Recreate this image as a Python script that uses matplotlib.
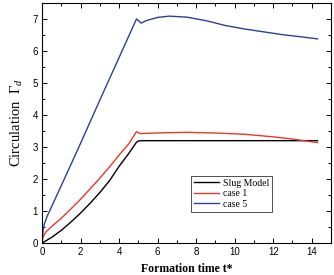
import numpy as np
import matplotlib as mpl
mpl.use('Agg')
import matplotlib.pyplot as plt
from matplotlib.ticker import MultipleLocator

t_slug = [0, 0.5, 1, 1.5, 2, 2.5, 3, 3.5, 4, 4.5, 4.9, 5.0, 5.2, 6, 8, 10, 12, 14.3]
g_slug = [0, 0.18, 0.4, 0.66, 0.94, 1.25, 1.58, 1.95, 2.4, 2.8, 3.15, 3.19, 3.2, 3.2, 3.2, 3.2, 3.2, 3.2]

t_case1 = [0, 0.05, 0.2, 0.5, 1, 1.5, 2, 2.5, 3, 3.5, 4, 4.5, 4.9, 5.1, 5.5, 6.5, 7.5,
           9, 10.5, 12, 13, 14.3]
g_case1 = [0, 0.2, 0.35, 0.52, 0.78, 1.07, 1.37, 1.7, 2.03, 2.38, 2.75, 3.1, 3.48, 3.42,
           3.43, 3.45, 3.46, 3.44, 3.4, 3.32, 3.25, 3.14]

t_case5 = [0, 0.05, 0.12, 0.25, 1, 2, 3, 4, 4.6, 4.9, 4.95, 5.15, 5.4, 6, 6.6, 7.5,
           8.5, 9.5, 10.5, 11.5, 12.5, 13.5, 14.3]
g_case5 = [0, 0.4, 0.6, 0.82, 1.8, 3.12, 4.47, 5.8, 6.6, 7.0, 6.98, 6.87, 6.95, 7.05,
           7.09, 7.06, 6.95, 6.8, 6.69, 6.6, 6.51, 6.44, 6.38]

serif = 'Liberation Serif'
sans = 'Liberation Sans'
plt.rcParams['mathtext.fontset'] = 'custom'
plt.rcParams['mathtext.rm'] = serif
plt.rcParams['mathtext.it'] = serif + ':italic'

fig = plt.figure(figsize=(3.34, 2.75), dpi=100)
ax = fig.add_axes([0.126, 0.116, 0.865, 0.873])

ax.plot(t_slug, g_slug, color='black', lw=1.0, label='Slug Model')
ax.plot(t_case1, g_case1, color='#e8382a', lw=1.0, label='case 1')
ax.plot(t_case5, g_case5, color='#2f3f95', lw=1.0, label='case 5')

ax.set_xlim(0, 15)
ax.set_ylim(0, 7.5)
ax.xaxis.set_major_locator(MultipleLocator(2))
ax.xaxis.set_minor_locator(MultipleLocator(1))
ax.yaxis.set_major_locator(MultipleLocator(1))
ax.yaxis.set_minor_locator(MultipleLocator(0.5))
ax.tick_params(which='both', direction='in', top=True, right=True, width=0.7)
ax.tick_params(which='major', length=3.5, labelsize=7, pad=3)
ax.tick_params(which='minor', length=2)
for lab in ax.get_xticklabels() + ax.get_yticklabels():
    lab.set_family(sans)
for s in ax.spines.values():
    s.set_linewidth(0.8)

ax.set_xlabel('Formation time t*', family=serif, fontsize=8.5, fontweight='bold', labelpad=4)
ax.set_ylabel(r'Circulation  $\mathrm{\Gamma}_{d}$', family=serif, fontsize=10.5, labelpad=5)

leg = ax.legend(loc='upper left', bbox_to_anchor=(0.515, 0.28), prop={'family': serif, 'size': 7},
                frameon=True, fancybox=False, edgecolor='black', handlelength=2.6,
                borderpad=0.3, labelspacing=0.15, handletextpad=0.4, borderaxespad=0)
leg.get_frame().set_linewidth(0.6)

plt.savefig('out.png', dpi=100)
plt.close()
